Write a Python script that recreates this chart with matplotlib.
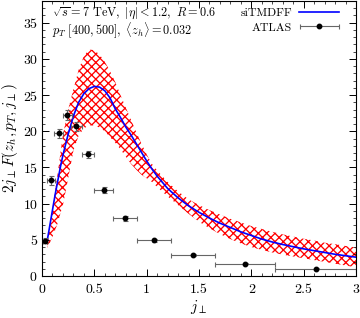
import matplotlib
matplotlib.use("Agg")
import matplotlib.pyplot as plt
from matplotlib.legend_handler import HandlerErrorbar
import numpy as np

plt.rcParams['mathtext.fontset'] = 'cm'
plt.rcParams['font.family'] = ['cmr10', 'DejaVu Serif']
plt.rcParams['axes.formatter.use_mathtext'] = True
plt.rcParams['hatch.linewidth'] = 0.95

# theory curve and band
jt = [0.05, 0.075, 0.1, 0.125, 0.15, 0.175, 0.2, 0.25, 0.3, 0.35, 0.4, 0.45, 0.5, 0.55, 0.6,
      0.65, 0.7, 0.75, 0.8, 0.85, 0.9, 0.95, 1.0, 1.05, 1.1, 1.2, 1.3, 1.4, 1.5, 1.6, 1.7,
      1.8, 1.9, 2.0, 2.1, 2.2, 2.3, 2.4, 2.5, 2.6, 2.7, 2.8, 2.9, 3.0]
central = [4.9, 7.0, 9.1, 11.2, 13.1, 15.0, 16.7, 19.6, 22.1, 24.0, 25.2, 25.9, 26.2, 26.1, 25.6,
           24.6, 23.1, 21.9, 20.6, 19.5, 18.3, 17.1, 15.9, 14.8, 13.8, 12.1, 10.8, 9.7, 8.8, 8.0, 7.3,
           6.7, 6.1, 5.6, 5.1, 4.7, 4.35, 4.05, 3.75, 3.5, 3.25, 3.0, 2.8, 2.6]
upper = [4.9, 7.1, 9.3, 11.8, 14.2, 16.9, 19.5, 23.0, 25.8, 28.5, 30.4, 31.3, 31.2, 30.6, 29.6,
         28.3, 26.8, 25.0, 23.3, 21.6, 19.9, 18.3, 16.8, 15.5, 14.6, 13.0, 11.7, 10.6, 9.8, 9.1, 8.5,
         7.9, 7.4, 6.9, 6.5, 6.1, 5.75, 5.45, 5.15, 4.9, 4.6, 4.4, 4.15, 3.95]
lower = [3.9, 4.6, 5.4, 6.3, 7.3, 8.6, 9.8, 13.5, 17.3, 19.4, 20.4, 20.8, 20.8, 20.5, 20.0,
         19.2, 18.4, 17.5, 16.5, 15.5, 14.7, 14.0, 13.5, 13.0, 12.3, 11.0, 9.8, 8.6, 7.5, 6.6, 5.8,
         5.1, 4.5, 4.0, 3.6, 3.25, 2.95, 2.7, 2.45, 2.2, 1.95, 1.7, 1.45, 1.2]

# ATLAS data
atlas_x = [0.03, 0.086, 0.159, 0.242, 0.328, 0.44, 0.59, 0.795, 1.07, 1.44, 1.94, 2.615]
atlas_y = [4.9, 13.2, 19.7, 22.3, 20.7, 16.8, 11.9, 7.95, 4.95, 2.9, 1.7, 1.0]
atlas_xerr = [0.02, 0.035, 0.04, 0.04, 0.05, 0.06, 0.09, 0.115, 0.16, 0.21, 0.29, 0.385]
atlas_yerr = [0.4, 0.6, 0.65, 0.7, 0.6, 0.5, 0.4, 0.3, 0.2, 0.15, 0.1, 0.1]

fig = plt.figure(figsize=(3.6, 3.18), dpi=100)
ax = fig.add_axes([42/360, 42/318, 314/360, 275/318])

ax.fill_between(jt, lower, upper, facecolor='none', edgecolor='#ff0000', hatch='xxxx', linewidth=0)
line, = ax.plot(jt, central, color='#0000ff', lw=1.2)
ebkw = dict(fmt='o', color='black', ecolor='#666666', elinewidth=0.8, capsize=1.8,
            capthick=0.8, markersize=3.2)
ax.errorbar(atlas_x, atlas_y, xerr=atlas_xerr, yerr=atlas_yerr, **ebkw)
proxy = ax.errorbar([np.nan], [np.nan], xerr=[1.0], **ebkw)

ax.set_xlim(0, 3)
ax.set_ylim(0, 38)
ax.set_xticks([0, 0.5, 1, 1.5, 2, 2.5, 3])
ax.set_xticklabels(['0', '0.5', '1', '1.5', '2', '2.5', '3'])
ax.set_yticks([0, 5, 10, 15, 20, 25, 30, 35])
ax.set_xticks(np.arange(0, 3.01, 0.1), minor=True)
ax.set_yticks(np.arange(0, 38.01, 1), minor=True)
ax.tick_params(which='both', direction='in', top=True, right=True, labelsize=10)
ax.tick_params(axis='x', which='major', pad=6)
ax.tick_params(axis='y', which='major', pad=3)
ax.tick_params(which='major', length=5, width=0.7)
ax.tick_params(which='minor', length=2.5, width=0.5)
for s in ax.spines.values():
    s.set_linewidth(0.8)

ax.set_xlabel(r'$j_\perp$', fontsize=11, labelpad=1)
ax.set_ylabel(r'$2j_\perp F(z_h, p_T, j_\perp)$', fontsize=11, labelpad=2)

ax.text(0.033, 0.952, r'$\sqrt{s}=7\ \mathrm{TeV},\ |\eta|<1.2,\ R=0.6$', transform=ax.transAxes,
        fontsize=8.8, va='center', ha='left')
ax.text(0.033, 0.89, r'$p_T\ [400,500],\ \langle z_h\rangle=0.032$', transform=ax.transAxes,
        fontsize=8.8, va='center', ha='left')

leg = ax.legend([line, proxy], ['siTMDFF', 'ATLAS'], loc='upper right',
                bbox_to_anchor=(0.947, 0.975), frameon=False, fontsize=8.5,
                markerfirst=False, handlelength=3.4, handletextpad=0.6, borderaxespad=0,
                borderpad=0, labelspacing=0.35,
                handler_map={type(proxy): HandlerErrorbar(xerr_size=1.65)})

fig.savefig('out.png', dpi=100)
